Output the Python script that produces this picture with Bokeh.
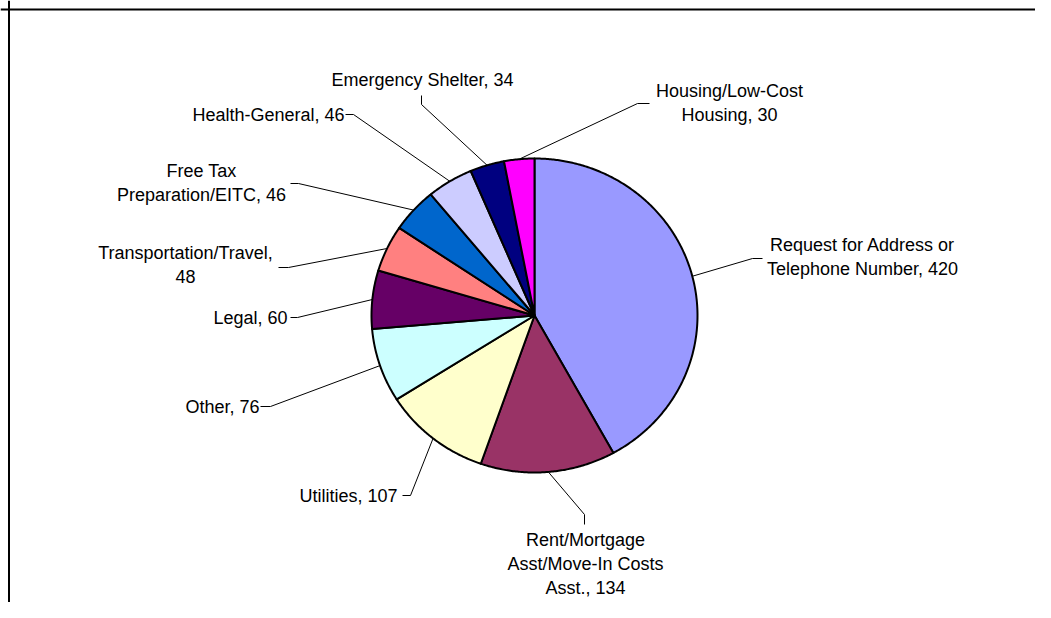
import textwrap
import numpy as np
from bokeh.plotting import figure
from bokeh.models import Range1d, Span, ColumnDataSource
from bokeh.core.properties import value
from bokeh.embed import file_html
from bokeh.resources import INLINE

# ---- data ----
categories = [
    "Request for Address or Telephone Number",
    "Rent/Mortgage Asst/Move-In Costs Asst.",
    "Utilities",
    "Other",
    "Legal",
    "Transportation/Travel",
    "Free Tax Preparation/EITC",
    "Health-General",
    "Emergency Shelter",
    "Housing/Low-Cost Housing",
]
counts = [420, 134, 107, 76, 60, 48, 46, 46, 34, 30]
colors = ["#9999FF", "#993366", "#FFFFCC", "#CCFFFF", "#660066",
          "#FF8080", "#0066CC", "#CCCCFF", "#000080", "#FF00FF"]

# ---- layout (picture pixel coordinates) ----
W, H = 1035, 602
CX, CY, RX, RY = 534, 315, 163, 157
wrap_width = [22, 18, 40, 40, 40, 22, 20, 40, 40, 16]
label_xy = [(862, 244), (585, 539), (348, 495), (222, 406), (250, 317),
            (185, 252), (201, 170), (268, 114), (422, 79), (729, 90)]
leader_start = [(762, 258), (584, 524), (402, 495), (260, 406), (290, 317),
                (278, 267), (290, 183), (345, 114), (421, 95), (649, 103)]
leader_elbow = [(752, 258), (584, 514), (410, 495), (270, 406), (297, 317),
                (288, 267), (298, 183), (353, 114), (421, 104), (637, 103)]
LINE_H = 24
FONT = "Liberation Sans"

p = figure(width=W, height=H, output_backend="svg", toolbar_location=None,
           x_axis_type=None, y_axis_type=None, min_border=0,
           x_range=Range1d(0, W), y_range=Range1d(H, 0))
p.grid.visible = False
p.outline_line_color = None
p.background_fill_color = "white"
p.border_fill_color = "white"

# frame (top + left edges visible in the reference)
p.add_layout(Span(location=8.5, dimension="height", line_color="black", line_width=2))
p.add_layout(Span(location=9, dimension="width", line_color="black", line_width=2))

# ---- pie slices (clockwise from 12 o'clock) ----
vals = np.array(counts, dtype=float)
ends = np.cumsum(vals) / vals.sum() * 2 * np.pi
starts = np.concatenate([[0.0], ends[:-1]])
mids = (starts + ends) / 2

xs, ys = [], []
for a0, a1 in zip(starts, ends):
    t = np.linspace(a0, a1, max(8, int((a1 - a0) * 120)))
    xs.append(np.concatenate([[CX], CX + RX * np.sin(t)]).tolist())
    ys.append(np.concatenate([[CY], CY - RY * np.cos(t)]).tolist())
p.patches(xs=xs, ys=ys, fill_color=colors, line_color="black", line_width=2,
          line_join="round")

# ---- leader lines ----
lx, ly = [], []
for i, m in enumerate(mids):
    ex = CX + RX * np.sin(m)
    ey = CY - RY * np.cos(m)
    lx.append([leader_start[i][0], leader_elbow[i][0], ex])
    ly.append([leader_start[i][1], leader_elbow[i][1], ey])
p.multi_line(xs=lx, ys=ly, line_color="black", line_width=1)

# ---- labels ----
tx, ty, tt = [], [], []
for i, (cat, v) in enumerate(zip(categories, counts)):
    lines = textwrap.wrap(f"{cat}, {v}", width=wrap_width[i], break_on_hyphens=False)
    for j, ln in enumerate(lines):
        tx.append(label_xy[i][0])
        ty.append(label_xy[i][1] + j * LINE_H)
        tt.append(ln)
src = ColumnDataSource(dict(x=tx, y=ty, text=tt))
p.text(x="x", y="y", text="text", source=src, text_align="center",
       text_baseline="middle", text_font=value(FONT), text_font_size="18px",
       text_color="black")

open("out.html", "w").write(file_html(p, INLINE))
